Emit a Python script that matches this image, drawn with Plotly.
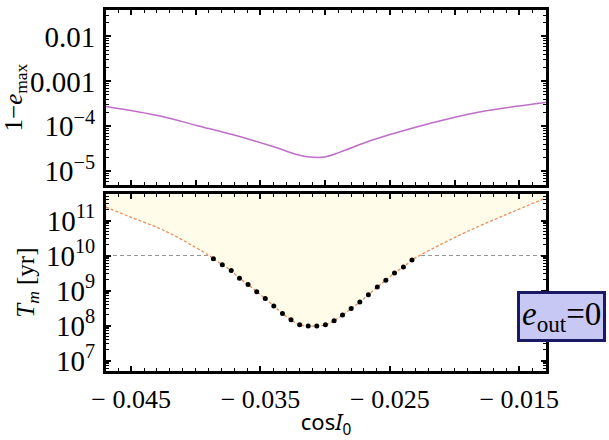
import plotly.graph_objects as go

# ---------------- data ----------------
# top panel: 1 - e_max vs cos I0
cos_top = [-0.04694, -0.04284, -0.03986, -0.03689, -0.03391, -0.03213, -0.03123,
           -0.03004, -0.02885, -0.02647, -0.02350, -0.02053, -0.01755, -0.01294]
one_minus_emax = [2.76e-4, 1.71e-4, 1.03e-4, 6.2e-5, 3.44e-5, 2.32e-5, 2.07e-5,
                  2.07e-5, 2.66e-5, 4.8e-5, 8.7e-5, 1.45e-4, 2.21e-4, 3.39e-4]

# bottom panel: T_m [yr] vs cos I0
cos_curve_left = [-0.04694, -0.04492, -0.04284, -0.04105, -0.03897]
T_curve_left = [2.4e11, 1.2e11, 6.0e10, 2.8e10, 1.0e10]
cos_dots = [-0.03864, -0.03795, -0.03726, -0.03662, -0.03596, -0.03529, -0.03463, -0.03397,
            -0.03330, -0.03264, -0.03197, -0.03131, -0.03065, -0.02998, -0.02931, -0.02866,
            -0.02799, -0.02732, -0.02666, -0.02597, -0.02531, -0.02464, -0.02395, -0.02329]
T_dots = [8.07e9, 5.46e9, 3.70e9, 2.24e9, 1.49e9, 9.25e8, 5.86e8, 3.62e8,
          2.21e8, 1.46e8, 1.05e8, 9.7e7, 9.7e7, 1.05e8, 1.37e8, 1.98e8,
          3.06e8, 4.70e8, 7.60e8, 1.25e9, 1.97e9, 3.18e9, 4.70e9, 7.41e9]
cos_curve_right = [-0.02270, -0.02114, -0.01904, -0.01606, -0.01294]
T_curve_right = [1.0e10, 2.0e10, 4.8e10, 1.45e11, 4.4e11]

t_hubble = 1e10

x_range = [-0.04694, -0.01293]
top_log_range = [-5.31, -1.41]
bot_log_range = [6.70, 11.75]

x_tickvals = [-0.045, -0.040, -0.035, -0.030, -0.025, -0.020, -0.015]
x_ticktext = ["− 0.045", "", "− 0.035", "", "− 0.025", "", "− 0.015"]
top_tickvals = [1e-2, 1e-3, 1e-4, 1e-5]
top_ticktext = ["0.01", "0.001", "10<sup>−4</sup>", "10<sup>−5</sup>"]
bot_tickvals = [1e7, 1e8, 1e9, 1e10, 1e11]
bot_ticktext = ["10<sup>7</sup>", "10<sup>8</sup>", "10<sup>9</sup>",
                "10<sup>10</sup>", "10<sup>11</sup>"]

# ---------------- build ----------------
curve_x = cos_curve_left + cos_dots + cos_curve_right
curve_T = T_curve_left + T_dots + T_curve_right
T_top = 10 ** (bot_log_range[1] + 0.5)

x_minor = [round(-0.047 + 0.001 * i, 4) for i in range(36)]
def log_minors(lo, hi):
    return [m * 10.0 ** k for k in range(lo, hi) for m in range(2, 10)]

SERIF = "Liberation Serif"
XTICK_FONT = dict(family=SERIF, size=26, color="black")
YTICK_FONT = dict(family=SERIF, size=29, color="black")
TITLE_FONT = dict(family=SERIF, size=25, color="black")

fig = go.Figure()

# Hubble-time reference line (drawn first so the fill covers it)
fig.add_trace(go.Scatter(x=x_range, y=[t_hubble, t_hubble], mode="lines",
                         line=dict(color="rgb(150,150,150)", width=1, dash="4px,3px"),
                         xaxis="x", yaxis="y", showlegend=False, hoverinfo="skip"))
# shaded region above the curve
fig.add_trace(go.Scatter(x=curve_x + [x_range[1], x_range[0]],
                         y=curve_T + [T_top, T_top],
                         mode="lines", fill="toself", fillcolor="rgb(255,252,234)",
                         line=dict(width=0), xaxis="x", yaxis="y",
                         showlegend=False, hoverinfo="skip"))
# orange dashed curve
fig.add_trace(go.Scatter(x=curve_x, y=curve_T, mode="lines",
                         line=dict(color="rgb(232,140,90)", width=1.3, dash="3px,2px",
                                   shape="spline"),
                         xaxis="x", yaxis="y", showlegend=False))
# black dots
fig.add_trace(go.Scatter(x=cos_dots, y=T_dots, mode="markers",
                         marker=dict(color="black", size=5),
                         xaxis="x", yaxis="y", showlegend=False))
# top panel purple curve
fig.add_trace(go.Scatter(x=cos_top, y=one_minus_emax, mode="lines",
                         line=dict(color="rgb(190,110,200)", width=1.5, shape="spline"),
                         xaxis="x2", yaxis="y2", showlegend=False))

common_axis = dict(showline=True, linewidth=3, linecolor="black", mirror="allticks",
                   ticks="inside", ticklen=5, tickwidth=1.5, tickcolor="black",
                   showgrid=False, zeroline=False)

fig.update_layout(
    width=609, height=440,
    margin=dict(l=103, r=63, t=7, b=68),
    paper_bgcolor="white", plot_bgcolor="white",
    xaxis=dict(common_axis, domain=[0, 1], anchor="y", range=x_range,
               tickmode="array", tickvals=x_tickvals, ticktext=x_ticktext,
               tickfont=XTICK_FONT, ticklabelstandoff=3,
               minor=dict(tickmode="array", tickvals=x_minor, ticks="inside",
                          ticklen=3, tickwidth=1.2, tickcolor="black"),
               title=dict(text="cos<i>I</i><sub>0</sub>",
                          font=dict(family="Noto Sans", size=22, color="black"),
                          standoff=3)),
    xaxis2=dict(common_axis, domain=[0, 1], anchor="y2", range=x_range,
                matches="x", showticklabels=False,
                tickmode="array", tickvals=x_tickvals,
                minor=dict(tickmode="array", tickvals=x_minor, ticks="inside",
                           ticklen=3, tickwidth=1.2, tickcolor="black")),
    yaxis=dict(common_axis, domain=[0, 0.4896], anchor="x", type="log",
               range=bot_log_range, tickmode="array", tickvals=bot_tickvals,
               ticktext=bot_ticktext, tickfont=YTICK_FONT, ticklabelstandoff=2,
               minor=dict(tickmode="array", tickvals=log_minors(6, 12), ticks="inside",
                          ticklen=3, tickwidth=1.2, tickcolor="black"),
               title=dict(text="<i>T<sub>m</sub></i> [yr]", font=TITLE_FONT,
                          standoff=5)),
    yaxis2=dict(common_axis, domain=[0.515, 1], anchor="x2", type="log",
                range=top_log_range, tickmode="array", tickvals=top_tickvals,
                ticktext=top_ticktext, tickfont=YTICK_FONT, ticklabelstandoff=2,
                minor=dict(tickmode="array", tickvals=log_minors(-6, -1), ticks="inside",
                           ticklen=3, tickwidth=1.2, tickcolor="black"),
                title=dict(text="1−<i>e</i><sub>max</sub>", font=TITLE_FONT,
                           standoff=5)),
)

fig.add_annotation(xref="paper", yref="paper", x=0.9345, y=0.150,
                   xanchor="left", yanchor="middle", showarrow=False,
                   text="<i>e</i><sub>out</sub>=0",
                   font=dict(family=SERIF, size=33, color="black"),
                   bgcolor="rgb(200,200,245)", bordercolor="rgb(25,25,100)",
                   borderwidth=3, borderpad=2, align="left")

fig.write_html("out.html")
